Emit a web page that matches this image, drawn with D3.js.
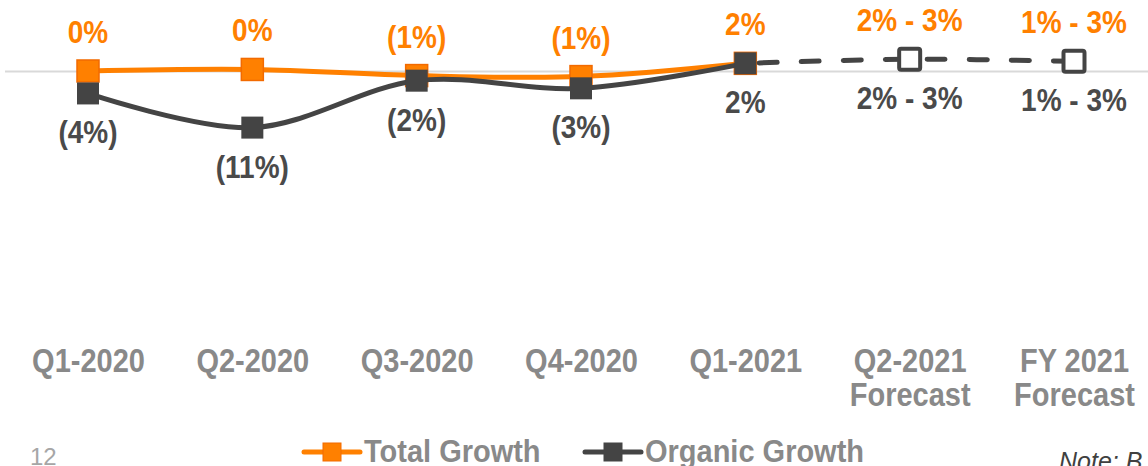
<!DOCTYPE html>
<html>
<head>
<meta charset="utf-8">
<script src="https://cdn.jsdelivr.net/npm/d3@7"></script>
<style>
  html, body { margin: 0; padding: 0; background: #fff; overflow: hidden; }
  svg { display: block; font-family: "Liberation Sans", Arial, sans-serif; }
</style>
</head>
<body>
<svg id="chart" width="1148" height="466"></svg>
<script>
// ---- data ----
const categories = ["Q1-2020", "Q2-2020", "Q3-2020", "Q4-2020", "Q1-2021", "Q2-2021 Forecast", "FY 2021 Forecast"];
const tickLines = [["Q1-2020"], ["Q2-2020"], ["Q3-2020"], ["Q4-2020"], ["Q1-2021"], ["Q2-2021", "Forecast"], ["FY 2021", "Forecast"]];
const actualCategories = ["Q1-2020", "Q2-2020", "Q3-2020", "Q4-2020", "Q1-2021"];
const totalGrowth = [0.1, 0.4, -0.8, -1.0, 1.6];
const organicGrowth = [-4.3, -11.0, -1.8, -3.3, 1.6];
const forecastCategories = ["Q1-2021", "Q2-2021 Forecast", "FY 2021 Forecast"];
const forecastGrowth = [1.6, 2.4, 2.0];
const totalLabels = ["0%", "0%", "(1%)", "(1%)", "2%", "2% - 3%", "1% - 3%"];
const organicLabels = ["(4%)", "(11%)", "(2%)", "(3%)", "2%", "2% - 3%", "1% - 3%"];
const legendItems = ["Total Growth", "Organic Growth"];

// ---- setup ----
const ORANGE = "#FF8000", ORANGE_DARK = "#F26A00", GRAY = "#444444", AXIS_GRAY = "#898989";
const svg = d3.select("#chart");
const x = d3.scalePoint().domain(categories).range([88, 1074]).padding(0);
const y = d3.scaleLinear().domain([-55, 5]).range([352, 46]);

const totalAt = categories.map((c, i) => i < 5 ? totalGrowth[i] : forecastGrowth[i - 4]);
const organicAt = categories.map((c, i) => i < 5 ? organicGrowth[i] : forecastGrowth[i - 4]);

// zero gridline
svg.append("line")
  .attr("x1", 5).attr("x2", 1148)
  .attr("y1", y(0)).attr("y2", y(0))
  .attr("stroke", "#D9D9D9").attr("stroke-width", 2);

// x axis
const xAxis = svg.append("g")
  .attr("transform", "translate(0,345)")
  .call(d3.axisBottom(x).tickSize(0).tickFormat(""));
xAxis.select(".domain").remove();
xAxis.selectAll(".tick text").remove();
xAxis.selectAll(".tick").each(function(d) {
  const lines = tickLines[categories.indexOf(d)];
  lines.forEach((ln, k) => {
    d3.select(this).append("text")
      .attr("transform", `translate(0,${27 + k * 34}) scale(1,1.14)`)
      .attr("text-anchor", "middle")
      .attr("fill", AXIS_GRAY)
      .attr("font-size", 29).attr("font-weight", "bold")
      .attr("font-family", "Liberation Sans, Arial, sans-serif")
      .text(ln);
  });
});

const curve = d3.curveCardinal.tension(0);
const line = d3.line().x(d => x(d[0])).y(d => y(d[1])).curve(curve);

// total growth line
svg.append("path")
  .datum(actualCategories.map((c, i) => [c, totalGrowth[i]]))
  .attr("d", line)
  .attr("fill", "none").attr("stroke", ORANGE).attr("stroke-width", 5)
  .attr("stroke-linecap", "round");

svg.selectAll(".tmark")
  .data(actualCategories.map((c, i) => [c, totalGrowth[i]]))
  .join("rect").attr("class", "tmark")
  .attr("x", d => x(d[0]) - 11).attr("y", d => y(d[1]) - 11)
  .attr("width", 22).attr("height", 22)
  .attr("fill", ORANGE).attr("stroke", ORANGE_DARK).attr("stroke-width", 1.5);

// organic growth line
svg.append("path")
  .datum(actualCategories.map((c, i) => [c, organicGrowth[i]]))
  .attr("d", line)
  .attr("fill", "none").attr("stroke", GRAY).attr("stroke-width", 5)
  .attr("stroke-linecap", "round");

// forecast dashed line
svg.append("path")
  .datum(forecastCategories.map((c, i) => [c, forecastGrowth[i]]))
  .attr("d", line)
  .attr("fill", "none").attr("stroke", GRAY).attr("stroke-width", 5)
  .attr("stroke-linecap", "round")
  .attr("stroke-dasharray", "18,24")
  .attr("stroke-dashoffset", -14);

svg.selectAll(".omark")
  .data(actualCategories.map((c, i) => [c, organicGrowth[i]]))
  .join("rect").attr("class", "omark")
  .attr("x", d => x(d[0]) - 11).attr("y", d => y(d[1]) - 11)
  .attr("width", 22).attr("height", 22)
  .attr("fill", GRAY);

svg.selectAll(".fmark")
  .data(forecastCategories.slice(1).map((c, i) => [c, forecastGrowth[i + 1]]))
  .join("rect").attr("class", "fmark")
  .attr("x", d => x(d[0]) - 10.5).attr("y", d => y(d[1]) - 10.5)
  .attr("width", 21).attr("height", 21).attr("rx", 2)
  .attr("fill", "#fff").attr("stroke", GRAY).attr("stroke-width", 4);

// data labels
svg.selectAll(".tlab")
  .data(categories)
  .join("text").attr("class", "tlab")
  .attr("transform", (d, i) => `translate(${x(d)},${y(totalAt[i]) - 28}) scale(1,1.1)`)
  .attr("text-anchor", "middle")
  .attr("font-size", 28).attr("font-weight", "bold").attr("fill", ORANGE)
  .text((d, i) => totalLabels[i]);

svg.selectAll(".olab")
  .data(categories)
  .join("text").attr("class", "olab")
  .attr("transform", (d, i) => `translate(${x(d)},${y(organicAt[i]) + 50}) scale(1,1.1)`)
  .attr("text-anchor", "middle")
  .attr("font-size", 28).attr("font-weight", "bold").attr("fill", "#4A4A4A")
  .text((d, i) => organicLabels[i]);

// legend
const legend = svg.append("g");
const legendX = [304, 585];
const legendColors = [ORANGE, GRAY];
legendItems.forEach((name, i) => {
  const g = legend.append("g").attr("transform", `translate(${legendX[i]},452)`);
  g.append("line").attr("x1", 0).attr("x2", 56).attr("y1", 0).attr("y2", 0)
    .attr("stroke", legendColors[i]).attr("stroke-width", 5).attr("stroke-linecap", "round");
  g.append("rect").attr("x", 19).attr("y", -9).attr("width", 18).attr("height", 18)
    .attr("fill", legendColors[i])
    .attr("stroke", i === 0 ? ORANGE_DARK : GRAY).attr("stroke-width", 1);
  g.append("text").attr("transform", "translate(60,10) scale(1,1.1)")
    .attr("font-size", 29).attr("font-weight", "bold").attr("fill", AXIS_GRAY)
    .text(name);
});

// page number and note
svg.append("text").attr("x", 30).attr("y", 465)
  .attr("font-size", 24).attr("fill", "#A6A6A6").text("12");
svg.append("text").attr("x", 1059).attr("y", 470)
  .attr("font-size", 25).attr("font-style", "italic").attr("fill", "#404040").text("Note: B");
</script>
</body>
</html>
